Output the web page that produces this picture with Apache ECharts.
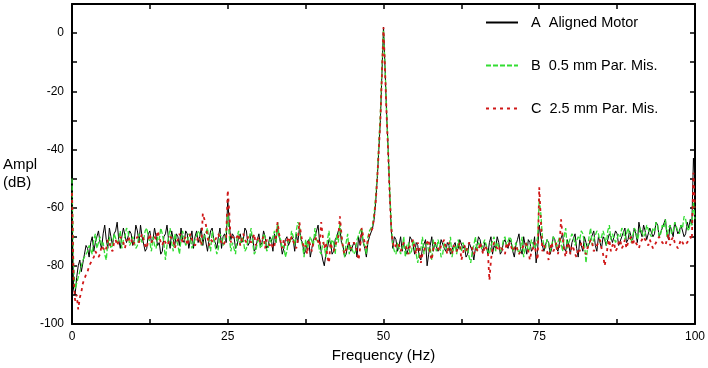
<!DOCTYPE html>
<html><head><meta charset="utf-8">
<script src="https://cdn.jsdelivr.net/npm/echarts@6/dist/echarts.min.js"></script>
<style>html,body{margin:0;padding:0;background:#fff}#c{width:708px;height:368px}</style>
</head><body><div id="c"></div>
<script>
const freq = [
0,0.25,0.5,0.75,1,1.25,1.5,1.75,2,2.25,2.5,2.75,3,3.25,3.5,3.75,4,4.25,4.5,4.75,
5,5.25,5.5,5.75,6,6.25,6.5,6.75,7,7.25,7.5,7.75,8,8.25,8.5,8.75,9,9.25,9.5,9.75,
10,10.25,10.5,10.75,11,11.25,11.5,11.75,12,12.25,12.5,12.75,13,13.25,13.5,13.75,14,14.25,14.5,14.75,
15,15.25,15.5,15.75,16,16.25,16.5,16.75,17,17.25,17.5,17.75,18,18.25,18.5,18.75,19,19.25,19.5,19.75,
20,20.25,20.5,20.75,21,21.25,21.5,21.75,22,22.25,22.5,22.75,23,23.25,23.5,23.75,24,24.25,24.5,24.75,
25,25.25,25.5,25.75,26,26.25,26.5,26.75,27,27.25,27.5,27.75,28,28.25,28.5,28.75,29,29.25,29.5,29.75,
30,30.25,30.5,30.75,31,31.25,31.5,31.75,32,32.25,32.5,32.75,33,33.25,33.5,33.75,34,34.25,34.5,34.75,
35,35.25,35.5,35.75,36,36.25,36.5,36.75,37,37.25,37.5,37.75,38,38.25,38.5,38.75,39,39.25,39.5,39.75,
40,40.25,40.5,40.75,41,41.25,41.5,41.75,42,42.25,42.5,42.75,43,43.25,43.5,43.75,44,44.25,44.5,44.75,
45,45.25,45.5,45.75,46,46.25,46.5,46.75,47,47.25,47.5,47.75,48,48.25,48.5,48.75,49,49.25,49.5,49.75,
50,50.25,50.5,50.75,51,51.25,51.5,51.75,52,52.25,52.5,52.75,53,53.25,53.5,53.75,54,54.25,54.5,54.75,
55,55.25,55.5,55.75,56,56.25,56.5,56.75,57,57.25,57.5,57.75,58,58.25,58.5,58.75,59,59.25,59.5,59.75,
60,60.25,60.5,60.75,61,61.25,61.5,61.75,62,62.25,62.5,62.75,63,63.25,63.5,63.75,64,64.25,64.5,64.75,
65,65.25,65.5,65.75,66,66.25,66.5,66.75,67,67.25,67.5,67.75,68,68.25,68.5,68.75,69,69.25,69.5,69.75,
70,70.25,70.5,70.75,71,71.25,71.5,71.75,72,72.25,72.5,72.75,73,73.25,73.5,73.75,74,74.25,74.5,74.75,
75,75.25,75.5,75.75,76,76.25,76.5,76.75,77,77.25,77.5,77.75,78,78.25,78.5,78.75,79,79.25,79.5,79.75,
80,80.25,80.5,80.75,81,81.25,81.5,81.75,82,82.25,82.5,82.75,83,83.25,83.5,83.75,84,84.25,84.5,84.75,
85,85.25,85.5,85.75,86,86.25,86.5,86.75,87,87.25,87.5,87.75,88,88.25,88.5,88.75,89,89.25,89.5,89.75,
90,90.25,90.5,90.75,91,91.25,91.5,91.75,92,92.25,92.5,92.75,93,93.25,93.5,93.75,94,94.25,94.5,94.75,
95,95.25,95.5,95.75,96,96.25,96.5,96.75,97,97.25,97.5,97.75,98,98.25,98.5,98.75,99,99.25,99.5,99.75,
100];
const alignedA = [
-62,-88,-90,-84,-80,-78,-82,-79,-76,-73,-74,-77,-72,-70,-75,-72,-70,-68,-72,-74,
-69,-66,-71,-74,-67,-70,-73,-69,-68,-65,-71,-74,-70,-67,-67,-72,-72,-68,-69,-73,
-71,-66,-68,-72,-66,-70,-70,-75,-74,-69,-68,-72,-71,-67,-67,-73,-72,-76,-75,-70,
-69,-66,-71,-74,-68,-71,-73,-69,-70,-73,-67,-71,-72,-68,-69,-74,-71,-68,-74,-70,
-68,-72,-70,-67,-73,-69,-69,-75,-71,-68,-67,-71,-72,-74,-70,-67,-74,-70,-69,-72,
-57,-66,-71,-69,-70,-74,-73,-70,-69,-72,-71,-67,-68,-73,-72,-69,-70,-75,-74,-71,
-69,-73,-72,-68,-70,-74,-73,-70,-71,-75,-69,-72,-66,-70,-72,-76,-74,-71,-70,-73,
-73,-70,-71,-75,-69,-72,-67,-71,-72,-76,-75,-72,-71,-77,-74,-71,-70,-68,-66,-72,
-75,-78,-80,-76,-74,-71,-72,-76,-75,-71,-70,-68,-67,-72,-73,-77,-76,-73,-72,-75,
-75,-72,-73,-77,-70,-73,-68,-72,-74,-77,-72,-70,-70,-67,-64,-58,-50,-40,-30,-14,
2,-12,-28,-40,-55,-68,-74,-70,-71,-75,-73,-70,-75,-72,-72,-76,-74,-70,-71,-73,
-76,-72,-73,-77,-78,-74,-74,-71,-80,-76,-73,-70,-75,-72,-72,-75,-74,-71,-71,-74,
-75,-72,-73,-76,-76,-73,-72,-75,-74,-71,-71,-74,-73,-77,-76,-72,-72,-75,-78,-74,
-73,-70,-71,-74,-75,-72,-73,-76,-72,-70,-76,-73,-74,-70,-72,-76,-75,-72,-71,-73,
-74,-71,-72,-75,-77,-73,-71,-69,-74,-76,-70,-73,-76,-71,-72,-75,-74,-70,-79,-74,
-66,-70,-73,-75,-75,-71,-72,-76,-74,-70,-71,-74,-75,-72,-72,-69,-74,-75,-71,-73,
-76,-72,-72,-69,-74,-77,-71,-73,-75,-70,-72,-74,-74,-71,-71,-68,-73,-75,-70,-72,
-74,-70,-71,-73,-73,-69,-70,-72,-72,-68,-69,-73,-73,-70,-70,-67,-72,-71,-68,-70,
-71,-67,-69,-72,-65,-68,-70,-66,-68,-71,-71,-67,-67,-70,-69,-65,-66,-70,-70,-67,
-67,-64,-69,-71,-66,-68,-70,-65,-67,-69,-68,-66,-66,-70,-69,-65,-67,-64,-66,-43,
-50];
const misB = [
-50,-80,-88,-86,-84,-82,-80,-78,-78,-76,-75,-73,-73,-76,-71,-69,-74,-72,-70,-73,
-72,-76,-78,-72,-70,-74,-73,-69,-69,-72,-71,-68,-74,-71,-70,-67,-68,-73,-72,-70,
-70,-74,-73,-69,-69,-72,-71,-68,-67,-70,-72,-75,-70,-73,-74,-70,-71,-67,-69,-72,
-78,-73,-70,-67,-72,-75,-69,-71,-73,-76,-71,-68,-68,-73,-72,-69,-70,-74,-74,-71,
-71,-68,-69,-73,-73,-70,-70,-67,-72,-75,-68,-71,-71,-76,-74,-69,-70,-73,-72,-68,
-62,-70,-75,-72,-72,-76,-70,-68,-73,-70,-71,-75,-74,-71,-70,-67,-72,-76,-75,-72,
-71,-74,-73,-69,-70,-75,-74,-71,-72,-70,-68,-72,-65,-70,-71,-74,-73,-77,-75,-71,
-72,-68,-70,-73,-68,-65,-66,-71,-73,-77,-71,-74,-74,-70,-70,-73,-67,-71,-72,-75,
-76,-72,-73,-77,-71,-68,-74,-71,-72,-76,-69,-72,-65,-70,-74,-77,-72,-69,-76,-73,
-73,-76,-75,-71,-71,-68,-67,-72,-73,-76,-70,-68,-68,-66,-62,-56,-49,-38,-28,-12,
1,-11,-27,-40,-54,-66,-73,-75,-76,-72,-72,-76,-74,-70,-77,-73,-72,-76,-75,-71,
-73,-76,-79,-75,-74,-70,-76,-73,-72,-75,-74,-78,-71,-73,-75,-71,-73,-77,-76,-72,
-72,-75,-74,-70,-77,-74,-73,-76,-71,-74,-75,-72,-72,-75,-74,-77,-79,-75,-73,-70,
-75,-72,-72,-74,-74,-71,-71,-75,-76,-73,-73,-70,-75,-72,-72,-75,-74,-71,-70,-73,
-73,-70,-71,-75,-75,-72,-72,-76,-74,-70,-77,-74,-72,-75,-74,-71,-71,-74,-73,-70,
-57,-62,-70,-73,-74,-71,-72,-75,-73,-70,-71,-74,-74,-70,-72,-75,-70,-67,-74,-72,
-72,-69,-70,-73,-73,-70,-71,-68,-69,-72,-79,-74,-70,-67,-73,-71,-71,-68,-69,-72,
-72,-68,-70,-73,-68,-66,-71,-69,-69,-72,-72,-69,-70,-67,-68,-71,-71,-67,-69,-72,
-70,-67,-68,-71,-71,-67,-67,-70,-69,-66,-66,-69,-70,-67,-68,-65,-66,-70,-69,-66,
-67,-64,-70,-67,-66,-69,-68,-65,-65,-68,-69,-66,-67,-63,-64,-67,-68,-65,-66,-58,
-64];
const misC = [
-55,-84,-92,-90,-95,-91,-89,-86,-86,-83,-82,-80,-79,-78,-77,-75,-75,-77,-76,-73,
-73,-75,-74,-71,-72,-74,-75,-72,-71,-73,-73,-70,-70,-72,-74,-71,-72,-70,-71,-73,
-73,-71,-70,-72,-72,-69,-71,-73,-74,-71,-69,-72,-72,-70,-71,-68,-70,-72,-73,-71,
-71,-73,-72,-70,-70,-71,-74,-72,-71,-69,-70,-72,-72,-70,-73,-71,-69,-71,-71,-73,
-72,-70,-71,-73,-62,-64,-66,-70,-73,-71,-71,-72,-72,-70,-69,-71,-71,-73,-72,-70,
-54,-62,-72,-70,-70,-71,-71,-69,-73,-71,-69,-71,-72,-70,-70,-72,-71,-69,-73,-71,
-70,-72,-72,-70,-74,-71,-71,-73,-72,-74,-73,-70,-65,-69,-72,-74,-71,-73,-73,-70,
-72,-70,-70,-73,-74,-71,-65,-69,-72,-74,-73,-76,-71,-73,-75,-72,-72,-70,-70,-73,
-65,-70,-74,-72,-77,-79,-72,-74,-75,-73,-73,-70,-63,-69,-74,-76,-76,-73,-72,-74,
-74,-72,-73,-75,-78,-74,-67,-70,-72,-74,-71,-69,-69,-67,-63,-58,-50,-40,-30,-14,
2,-13,-28,-41,-56,-67,-72,-74,-74,-72,-73,-75,-75,-72,-72,-74,-76,-73,-73,-71,
-74,-76,-72,-74,-79,-76,-75,-73,-73,-71,-76,-78,-74,-72,-72,-74,-75,-73,-73,-71,
-74,-76,-72,-74,-76,-73,-73,-75,-75,-72,-78,-76,-73,-75,-75,-72,-72,-74,-76,-74,
-74,-75,-72,-74,-76,-73,-73,-75,-85,-78,-74,-72,-72,-74,-75,-73,-73,-75,-76,-72,
-74,-72,-72,-75,-75,-73,-73,-76,-76,-74,-74,-72,-73,-75,-78,-75,-74,-72,-76,-78,
-53,-64,-75,-73,-73,-75,-78,-74,-72,-75,-74,-72,-76,-73,-64,-70,-75,-77,-73,-72,
-76,-73,-74,-76,-77,-74,-75,-72,-73,-75,-76,-74,-74,-71,-72,-75,-75,-73,-73,-71,
-74,-76,-80,-77,-73,-71,-75,-73,-72,-75,-74,-72,-71,-74,-73,-71,-74,-72,-72,-70,
-73,-71,-71,-73,-74,-72,-72,-70,-70,-72,-73,-71,-71,-74,-74,-72,-72,-70,-70,-72,
-72,-73,-71,-69,-73,-71,-70,-72,-72,-74,-74,-71,-71,-73,-73,-72,-72,-70,-71,-48,
-60];
const seriesNames = ['A  Aligned Motor', 'B  0.5 mm Par. Mis.', 'C  2.5 mm Par. Mis.'];
const xTickLabels = [0, 25, 50, 75, 100];
const yTickLabels = [0, -20, -40, -60, -80, -100];

const font = 'Liberation Sans, Arial, sans-serif';
const pairs = arr => freq.map((f, i) => [f, arr[i]]);
const chart = echarts.init(document.getElementById('c'), null, {renderer: 'canvas'});
const axisLine = {show: true, onZero: false, lineStyle: {color: '#000', width: 2}};
const tick = {show: true, inside: true, length: 5, lineStyle: {color: '#000', width: 1.5}};
chart.setOption({
  animation: false,
  backgroundColor: '#fff',
  grid: {left: 72, right: 12, top: 4, bottom: 43, show: false},
  legend: {
    orient: 'vertical', left: 480, top: 10, itemWidth: 32, itemHeight: 14, itemGap: 28,
    itemStyle: {opacity: 0},
    textStyle: {fontFamily: font, fontSize: 14.5, color: '#000', padding: [0, 0, 0, 8]},
    data: seriesNames
  },
  xAxis: [
    {type: 'value', position: 'bottom', min: 0, max: 100, interval: 12.5,
     axisLine: axisLine, axisTick: tick, splitLine: {show: false},
     axisLabel: {fontFamily: font, fontSize: 12, color: '#000', margin: 7,
       formatter: v => xTickLabels.indexOf(v) >= 0 ? String(v) : ''},
     name: 'Frequency (Hz)', nameLocation: 'middle', nameGap: 24,
     nameTextStyle: {fontFamily: font, fontSize: 15, color: '#000'}},
    {type: 'value', position: 'top', min: 0, max: 100, interval: 12.5,
     axisLine: axisLine, axisTick: tick, axisLabel: {show: false}, splitLine: {show: false}}
  ],
  yAxis: [
    {type: 'value', position: 'left', min: -100, max: 10, interval: 10,
     axisLine: axisLine, axisTick: tick, splitLine: {show: false},
     axisLabel: {fontFamily: font, fontSize: 12, color: '#000', margin: 8,
       formatter: v => yTickLabels.indexOf(v) >= 0 ? String(v) : ''}},
    {type: 'value', position: 'right', min: -100, max: 10, interval: 10,
     axisLine: axisLine, axisTick: tick, axisLabel: {show: false}, splitLine: {show: false}}
  ],
  graphic: [{type: 'text', left: 3, top: 156,
    style: {text: 'Ampl\n(dB)', font: '15px ' + font, fill: '#000', lineHeight: 18}}],
  series: [
    {name: seriesNames[0], type: 'line', data: pairs(alignedA), showSymbol: false, symbol: 'none',
     lineStyle: {color: '#000', width: 1}, itemStyle: {color: '#000'}},
    {name: seriesNames[1], type: 'line', data: pairs(misB), showSymbol: false, symbol: 'none',
     lineStyle: {color: '#33dd33', width: 1.3, type: [5, 2]}, itemStyle: {color: '#33dd33'}},
    {name: seriesNames[2], type: 'line', data: pairs(misC), showSymbol: false, symbol: 'none',
     lineStyle: {color: '#d01818', width: 1.8, type: [3, 4]}, itemStyle: {color: '#d01818'}}
  ]
});
</script></body></html>
